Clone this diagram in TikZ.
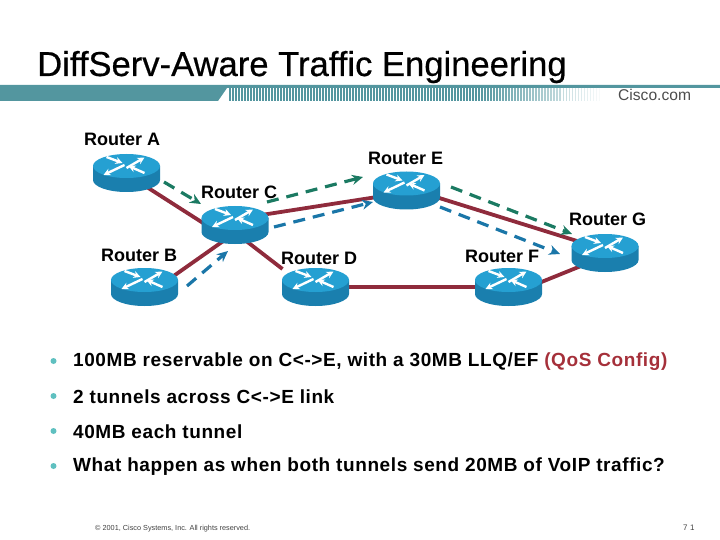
\documentclass[tikz,border=0pt]{standalone}
\usepackage{fontspec}
\usetikzlibrary{arrows.meta}
\setmainfont{Liberation Sans}
\newfontfamily\titlefont[FakeBold=0.5]{Liberation Sans}
\definecolor{barteal}{HTML}{53969F}
\definecolor{linkred}{HTML}{8F2B3C}
\definecolor{tunnelgreen}{HTML}{1B7A62}
\definecolor{tunnelblue}{HTML}{1A76A8}
\definecolor{routertop}{HTML}{25A0D2}
\definecolor{routerside}{HTML}{1A7FAE}
\definecolor{qoscolor}{HTML}{A5303A}
\definecolor{dotteal}{HTML}{5FC0C0}
\tikzset{
  routerbox/.style={minimum width=67pt,minimum height=38pt,inner sep=0pt},
  routername/.style={font=\fontsize{18}{20}\selectfont\bfseries,inner sep=0pt},
  link/.style={linkred,line width=3.8pt,line cap=butt},
  greentunnel/.style={-{Stealth[length=11pt,width=10pt]},tunnelgreen,line width=3.2pt,dash pattern=on 12pt off 8pt,line cap=butt},
  bluetunnel/.style={-{Stealth[length=11pt,width=10pt]},tunnelblue,line width=3.2pt,dash pattern=on 12pt off 8pt,line cap=butt},
  bullettext/.style={anchor=west,font=\fontsize{19}{21}\selectfont\bfseries\addfontfeature{LetterSpace=3.1},inner sep=0pt},
  bulletdot/.style={circle,fill=dotteal,minimum size=6pt,inner sep=0pt},
  routerarrow/.style={-{Stealth[length=7pt,width=7pt]},white,line width=2.4pt,line cap=butt}
}
\begin{document}
\begin{tikzpicture}[x=1pt,y=-1pt,line join=round,>=stealth]
\useasboundingbox (0,0) rectangle (720,540);
% title and bar
\node[anchor=base west,inner sep=0pt,font=\fontsize{34.6}{38}\titlefont,text=black] (title) at (37,76) {DiffServ-Aware Traffic Engineering};
\fill[barteal] (0,85) -- (720,85) -- (720,88) -- (227,88) -- (218,101) -- (0,101) -- cycle;
\foreach \x in {230,233,...,600} {
  \pgfmathsetmacro{\fadeval}{\x<480 ? 100 : 100-(\x-480)*0.8}
  \pgfmathsetmacro{\barw}{\x<480 ? 1.5 : 1.5-(\x-480)*0.006}
  \draw[barteal!\fadeval!white,line width=\barw pt,line cap=butt] (\x,88) -- (\x,101);
}
\node[anchor=base west,inner sep=0pt,font=\fontsize{15.6}{17}\selectfont,text=black!70] (logo) at (618,101) {Cisco.com};
% routers
\node[routerbox] (rA) at (126.5,173) {};
\node[routerbox] (rB) at (144.5,287) {};
\node[routerbox] (rC) at (235,225) {};
\node[routerbox] (rD) at (315.5,287) {};
\node[routerbox] (rE) at (406.5,190.5) {};
\node[routerbox] (rF) at (508.5,287) {};
\node[routerbox] (rG) at (605,253) {};
% links
\draw[link] ([shift={(14,10)}]rA.center) -- ([shift={(-21,5)}]rC.center);
\draw[link] ([shift={(22,-6)}]rB.center) -- ([shift={(-6,12)}]rC.center);
\draw[link] ([shift={(20,-9)}]rC.center) -- ([shift={(-20,5)}]rE.center);
\draw[link] ([shift={(6,12)}]rC.center) -- ([shift={(-33,-18)}]rD.center);
\draw[link] (rD.center) -- (rF.center);
\draw[link] ([shift={(28,6)}]rE.center) -- ([shift={(-28,-12)}]rG.center);
\draw[link] ([shift={(28,-3)}]rF.center) -- ([shift={(-24,13)}]rG.center);
% tunnels
\coordinate (g1) at (164,182);
\coordinate (g2) at (201,204);
\coordinate (g3) at (267,202);
\coordinate (g4) at (363,177);
\coordinate (g5) at (451,187);
\coordinate (g6) at (572,234);
\coordinate (b1) at (187,286);
\coordinate (b2) at (228,251);
\coordinate (b3) at (274,227);
\coordinate (b4) at (373,202);
\coordinate (b5) at (440,207);
\coordinate (b6) at (560,254);
\draw[greentunnel] (g1) -- (g2);
\draw[greentunnel] (g3) -- (g4);
\draw[greentunnel] (g5) -- (g6);
\draw[bluetunnel] (b1) -- (b2);
\draw[bluetunnel] (b3) -- (b4);
\draw[bluetunnel] (b5) -- (b6);
% router bodies
\foreach \r in {rA,rB,rC,rD,rE,rF,rG} {
  \begin{scope}[shift={(\r.center)}]
    \fill[routerside] (-33.5,-7) -- (-33.5,7) arc[start angle=180,end angle=360,x radius=33.5pt,y radius=12pt] -- (33.5,-7) -- cycle;
    \fill[routertop] (0,-7) ellipse[x radius=33.5pt,y radius=12pt];
    \draw[routerarrow] (0,-5) -- (18,-15.5);
    \draw[routerarrow] (-2,-8) -- (-23,2);
    \draw[routerarrow] (-20,-16) -- (-4,-10);
    \draw[routerarrow] (18,0) -- (2,-7);
  \end{scope}
}
% router names
\node[routername,anchor=west] (nA) at (84,139) {Router A};
\node[routername,anchor=west] (nB) at (101,255) {Router B};
\node[routername,anchor=west] (nC) at (201,192) {Router C};
\node[routername,anchor=west] (nD) at (281,258) {Router D};
\node[routername,anchor=west] (nE) at (368,158) {Router E};
\node[routername,anchor=west] (nF) at (465,256) {Router F};
\node[routername,anchor=west] (nG) at (569,219) {Router G};
% bullets
\node[bulletdot] (d1) at (53.5,361) {};
\node[bulletdot] (d2) at (53.5,396) {};
\node[bulletdot] (d3) at (53.5,431) {};
\node[bulletdot] (d4) at (53.5,466) {};
\node[bullettext] (t1) at (73,362) {100MB reservable on C<->E, with a 30MB LLQ/EF \textcolor{qoscolor}{(QoS Config)}};
\node[bullettext] (t2) at (73,396.5) {2 tunnels across C<->E link};
\node[bullettext] (t3) at (73,431.5) {40MB each tunnel};
\node[bullettext] (t4) at (73,466.5) {What happen as when both tunnels send 20MB of VoIP traffic?};
% footer
\node[anchor=west,inner sep=0pt,font=\fontsize{7.3}{8}\selectfont,text=black!75] (foot) at (95,529) {© 2001, Cisco Systems, Inc. All rights reserved.};
\node[anchor=west,inner sep=0pt,font=\fontsize{8}{9}\selectfont\addfontfeature{LetterSpace=30},text=black!75] (page) at (683,528) {71};
\end{tikzpicture}
\end{document}
